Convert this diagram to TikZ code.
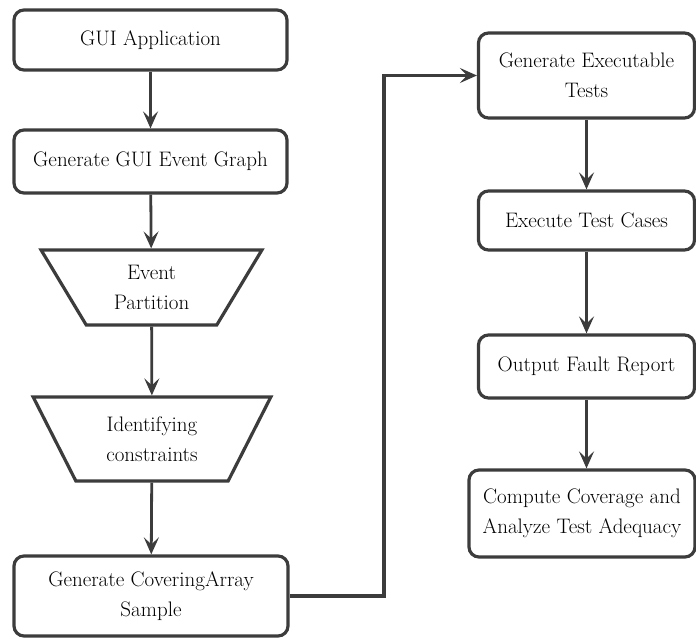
\documentclass[tikz,border=0pt]{standalone}
\usetikzlibrary{arrows.meta,shapes.geometric}
\definecolor{ln}{HTML}{3C3C3C}
\tikzset{
  box/.style={draw=ln, line width=3.2pt, rounded corners=10pt, fill=white, align=center,
    font=\fontsize{21}{30}\selectfont, inner sep=0pt},
  trap/.style={draw=ln, line width=3.2pt, trapezium, shape border rotate=180,
    trapezium stretches=true, fill=white, align=center,
    font=\fontsize{21}{30}\selectfont, inner sep=0pt},
  arr/.style={draw=ln, line width=2.8pt, -{Stealth[length=17pt,width=15pt,inset=7pt]}},
  link/.style={draw=ln, line width=3.2pt, -{Stealth[length=17pt,width=15pt,inset=7pt]}}
}
\begin{document}
\begin{tikzpicture}[x=1pt,y=-1pt]
\useasboundingbox (0,0) rectangle (696,639);
\node[box, minimum width=273pt, minimum height=60pt] (gui) at (150.5,40) {GUI Application};
\node[box, minimum width=273pt, minimum height=63pt] (geg) at (150.5,161.5) {Generate GUI Event Graph};
\node[trap, minimum width=221pt, minimum height=75pt, trapezium left angle=59.6, trapezium right angle=59.6] (ep) at (151.5,287.5) {Event\\Partition};
\node[trap, minimum width=238pt, minimum height=84pt, trapezium left angle=60.3, trapezium right angle=60.3] (ic) at (152,439) {Identifying\\constraints};
\node[box, minimum width=274pt, minimum height=80pt] (cov) at (151,596) {Generate CoveringArray\\Sample};
\node[box, minimum width=216pt, minimum height=85pt] (get) at (586.5,75.5) {Generate Executable\\Tests};
\node[box, minimum width=216pt, minimum height=59pt] (etc) at (586.5,220.5) {Execute Test Cases};
\node[box, minimum width=216pt, minimum height=63pt] (ofr) at (586.5,366.5) {Output Fault Report};
\node[box, minimum width=226pt, minimum height=87pt] (ccv) at (582,513.5) {Compute Coverage and\\Analyze Test Adequacy};
\coordinate (bend) at (384,0);
\draw[arr] (gui) -- (geg);
\draw[arr] (geg) -- (ep);
\draw[arr] (ep) -- (ic);
\draw[arr] (ic) -- (cov);
\draw[link] (cov.east) -- (cov.east -| bend) |- (get.west);
\draw[arr] (get) -- (etc);
\draw[arr] (etc) -- (ofr);
\draw[arr] (ofr.south) -- (ofr.south |- ccv.north);
\end{tikzpicture}
\end{document}
